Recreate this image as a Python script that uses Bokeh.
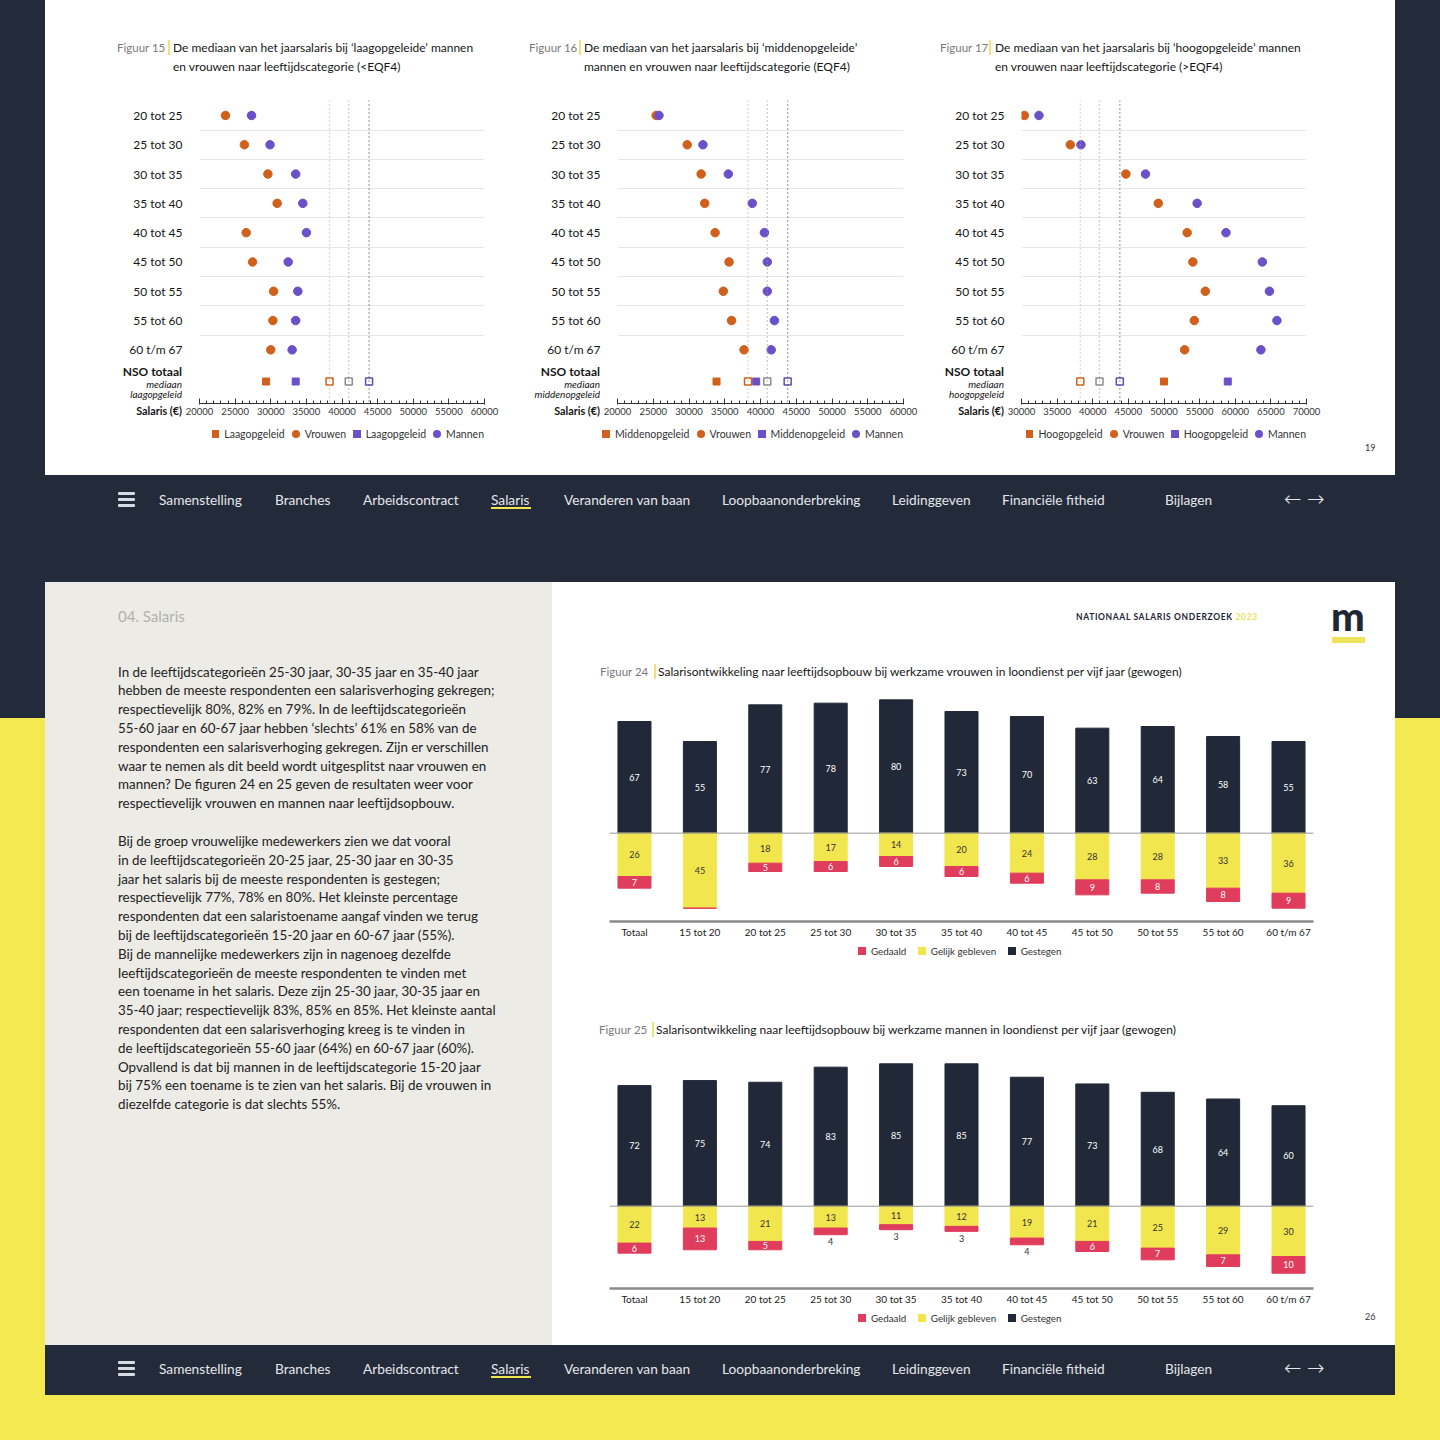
from bokeh.plotting import figure
from bokeh.models import (Range1d, FixedTicker, SingleIntervalTicker, Span, ColumnDataSource,
                          Div, NumeralTickFormatter)
from bokeh.layouts import row, column
from bokeh.embed import file_html
from bokeh.resources import INLINE
from bokeh.core.properties import value

# ---------------- data ----------------
age_groups = ["20 tot 25", "25 tot 30", "30 tot 35", "35 tot 40", "40 tot 45",
              "45 tot 50", "50 tot 55", "55 tot 60", "60 t/m 67"]

laag_vrouwen = [23650, 26300, 29600, 30900, 26550, 27450, 30400, 30300, 30000]
laag_mannen = [27300, 29900, 33500, 34500, 35000, 32450, 33800, 33500, 33000]
laag_nso_vrouwen = 29350
laag_nso_mannen = 33500

midden_vrouwen = [25400, 29750, 31700, 32200, 33650, 35600, 34800, 35950, 37700]
midden_mannen = [25800, 31950, 35500, 38850, 40550, 40950, 40950, 41950, 41500]
midden_nso_vrouwen = 33850
midden_nso_mannen = 39400

hoog_vrouwen = [30400, 36850, 44650, 49200, 53250, 54050, 55800, 54250, 52900]
hoog_mannen = [32450, 38350, 47400, 54650, 58700, 63800, 64800, 65850, 63600]
hoog_nso_vrouwen = 50000
hoog_nso_mannen = 58950

nso_totaal_vrouwen = 38250
nso_totaal = 40950
nso_totaal_mannen = 43800

bar_categories = ["Totaal", "15 tot 20", "20 tot 25", "25 tot 30", "30 tot 35", "35 tot 40",
                  "40 tot 45", "45 tot 50", "50 tot 55", "55 tot 60", "60 t/m 67"]
vrouwen_gestegen = [67, 55, 77, 78, 80, 73, 70, 63, 64, 58, 55]
vrouwen_gelijk = [26, 45, 18, 17, 14, 20, 24, 28, 28, 33, 36]
vrouwen_gedaald = [7, 0, 5, 6, 6, 6, 6, 9, 8, 8, 9]

mannen_gestegen = [72, 75, 74, 83, 85, 85, 77, 73, 68, 64, 60]
mannen_gelijk = [22, 13, 21, 13, 11, 12, 19, 21, 25, 29, 30]
mannen_gedaald = [6, 13, 5, 4, 3, 3, 4, 6, 7, 7, 10]

nav_items = ["Samenstelling", "Branches", "Arbeidscontract", "Salaris", "Veranderen van baan",
             "Loopbaanonderbreking", "Leidinggeven", "Financiële fitheid", "Bijlagen"]
nav_x = [159, 275, 363, 491, 564, 722, 892, 1002, 1165]

paragraph_lines = [
    "In de leeftijdscategorieën 25-30 jaar, 30-35 jaar en 35-40 jaar",
    "hebben de meeste respondenten een salarisverhoging gekregen;",
    "respectievelijk 80%, 82% en 79%. In de leeftijdscategorieën",
    "55-60 jaar en 60-67 jaar hebben ‘slechts’ 61% en 58% van de",
    "respondenten een salarisverhoging gekregen. Zijn er verschillen",
    "waar te nemen als dit beeld wordt uitgesplitst naar vrouwen en",
    "mannen? De figuren 24 en 25 geven de resultaten weer voor",
    "respectievelijk vrouwen en mannen naar leeftijdsopbouw.",
    "",
    "Bij de groep vrouwelijke medewerkers zien we dat vooral",
    "in de leeftijdscategorieën 20-25 jaar, 25-30 jaar en 30-35",
    "jaar het salaris bij de meeste respondenten is gestegen;",
    "respectievelijk 77%, 78% en 80%. Het kleinste percentage",
    "respondenten dat een salaristoename aangaf vinden we terug",
    "bij de leeftijdscategorieën 15-20 jaar en 60-67 jaar (55%).",
    "Bij de mannelijke medewerkers zijn in nagenoeg dezelfde",
    "leeftijdscategorieën de meeste respondenten te vinden met",
    "een toename in het salaris. Deze zijn 25-30 jaar, 30-35 jaar en",
    "35-40 jaar; respectievelijk 83%, 85% en 85%. Het kleinste aantal",
    "respondenten dat een salarisverhoging kreeg is te vinden in",
    "de leeftijdscategorieën 55-60 jaar (64%) en 60-67 jaar (60%).",
    "Opvallend is dat bij mannen in de leeftijdscategorie 15-20 jaar",
    "bij 75% een toename is te zien van het salaris. Bij de vrouwen in",
    "diezelfde categorie is dat slechts 55%.",
]

# ---------------- styles ----------------
FONT = "Lato"
NAVY = "#232b3a"
YELLOW_BG = "#f4e950"
GRAY_BG = "#ecebe6"
BAR_DARK = "#212938"
BAR_YELLOW = "#f2e64f"
BAR_RED = "#e03c5c"
ORANGE = "#d0601b"
PURPLE = "#6a50c9"
TEXT = "#161616"


def block(w, h, color, inner=""):
    html = (f'<div style="position:relative;width:{w}px;height:{h}px;background:{color};'
            f'overflow:hidden;font-family:{FONT};">{inner}</div>')
    return Div(text=html, width=w, height=h, margin=0, styles={"background-color": color})


def title_html(fig_label, lines, fx, bx, tx, y0, dy=19):
    parts = [f'<div style="position:absolute;left:{fx}px;top:{y0 - 8}px;line-height:16px;'
             f'font-size:11.5px;color:#7a7a7a;white-space:nowrap">{fig_label}</div>',
             f'<div style="position:absolute;left:{bx}px;top:{y0 - 8}px;width:1.5px;height:15px;'
             f'background:#efe27a"></div>']
    for i, ln in enumerate(lines):
        parts.append(f'<div style="position:absolute;left:{tx}px;top:{y0 - 8 + i * dy}px;'
                     f'line-height:16px;font-size:12px;color:{TEXT};white-space:nowrap">{ln}</div>')
    return "".join(parts)


def legend_html(items, pos_css, font_size, gap):
    spans = []
    for shape, col, lab in items:
        radius = "50%" if shape == "circle" else "0"
        sz = 8 if shape == "circle" else 7.5
        spans.append(f'<span style="display:flex;align-items:center;margin:0 {gap}px 0 0">'
                     f'<span style="display:inline-block;width:{sz}px;height:{sz}px;background:{col};'
                     f'border-radius:{radius};margin-right:5px"></span>{lab}</span>')
    return (f'<div style="position:absolute;{pos_css};display:flex;align-items:center;'
            f'font-size:{font_size};color:#333;white-space:nowrap;line-height:14px">'
            + "".join(spans) + '</div>')


def add_spans(p):
    for loc, col in [(nso_totaal_vrouwen, "#e6a57a"), (nso_totaal, "#9a9a9a"),
                     (nso_totaal_mannen, "#4b4d96")]:
        p.add_layout(Span(location=loc, dimension="height", line_color=col,
                          line_dash="1 3", line_width=1.3))


def dot_panel(fig_label, title_lines, title_pos, level, level_sub, vrouwen, mannen,
              nso_v, nso_m, x_lo, x_hi, width, bl, br, page=None):
    xr = Range1d(x_lo, x_hi)
    # ---- title
    fx, bx, tx = title_pos
    title = block(width, 92, "white", title_html(fig_label, title_lines, fx, bx, tx, 48))

    # ---- main dot plot (age groups)
    p = figure(width=width, height=272, x_range=xr, y_range=Range1d(8.5, -0.51),
               min_border_left=bl, min_border_right=br, min_border_top=8, min_border_bottom=0,
               x_axis_location=None, output_backend="svg", toolbar_location=None,
               outline_line_color=None, background_fill_color="white", border_fill_color="white")
    ys = list(range(len(age_groups)))
    p.xgrid.visible = False
    p.ygrid.ticker = FixedTicker(ticks=[y + 0.5 for y in ys])
    p.ygrid.grid_line_color = "#e6e6e6"
    yax = p.yaxis[0]
    yax.ticker = FixedTicker(ticks=ys)
    yax.major_label_overrides = {y: g for y, g in zip(ys, age_groups)}
    yax.axis_line_color = None
    yax.major_tick_line_color = None
    yax.minor_tick_line_color = None
    yax.major_tick_out = 0
    yax.major_tick_in = 0
    yax.major_label_standoff = 17
    yax.major_label_text_font = FONT
    yax.major_label_text_font_size = "12px"
    yax.major_label_text_color = TEXT
    add_spans(p)
    p.scatter(x=vrouwen, y=ys, size=8.5, color=ORANGE)
    p.scatter(x=mannen, y=ys, size=8.5, color=PURPLE)

    # ---- NSO totaal row with the salary axis
    left_w = bl - 17
    q = figure(width=width - left_w, height=60, x_range=xr, y_range=Range1d(-1.1, 0.85),
               min_border_left=17, min_border_right=br, min_border_top=0, min_border_bottom=21,
               y_axis_location=None, output_backend="svg", toolbar_location=None,
               outline_line_color=None, background_fill_color="white", border_fill_color="white")
    q.grid.visible = False
    add_spans(q)
    q.scatter(x=[nso_v], y=[0], marker="square", size=7, color=ORANGE)
    q.scatter(x=[nso_m], y=[0], marker="square", size=7, color=PURPLE)
    hollow = ColumnDataSource(dict(x=[nso_totaal_vrouwen, nso_totaal, nso_totaal_mannen],
                                   y=[0, 0, 0], c=[ORANGE, "#8c8c8c", "#5a4fb0"]))
    q.scatter(x="x", y="y", source=hollow, marker="square", size=7, fill_color="white",
              line_color="c", line_width=1.5)
    xax = q.xaxis[0]
    xax.ticker = SingleIntervalTicker(interval=5000, num_minor_ticks=5)
    xax.formatter = NumeralTickFormatter(format="0")
    xax.axis_line_color = "#333"
    xax.major_tick_line_color = "#333"
    xax.minor_tick_line_color = "#333"
    xax.major_tick_in = 5
    xax.major_tick_out = 1
    xax.minor_tick_in = 3
    xax.minor_tick_out = 0
    xax.major_label_standoff = 3
    xax.major_label_text_font = FONT
    xax.major_label_text_font_size = "9.5px"
    xax.major_label_text_color = "#333"

    nso_html = (f'<div style="position:absolute;right:0;top:2px;line-height:12px;font-size:12px;'
                f'font-weight:700;color:{TEXT}">NSO totaal</div>'
                f'<div style="position:absolute;right:0;top:15px;line-height:10px;font-size:10px;'
                f'font-style:italic;color:{TEXT}">mediaan</div>'
                f'<div style="position:absolute;right:0;top:25px;line-height:10px;font-size:10px;'
                f'font-style:italic;color:{TEXT}">{level_sub}</div>'
                f'<div style="position:absolute;right:0;top:41px;line-height:12px;font-size:10.8px;'
                f'font-weight:700;color:{TEXT}">Salaris (€)</div>')
    left = block(left_w, 111, "white", nso_html)

    leg_items = [("square", ORANGE, level), ("circle", ORANGE, "Vrouwen"),
                 ("square", PURPLE, level), ("circle", PURPLE, "Mannen")]
    leg_inner = legend_html(leg_items, f"right:{br - 7}px;top:3px", "10.5px", 7)
    if page:
        leg_inner += (f'<div style="position:absolute;left:{1365 - (1395 - (width - left_w))}px;'
                      f'top:18px;font-size:9px;line-height:12px;color:#333">{page}</div>')
    legend = block(width - left_w, 51, "white", leg_inner)

    return column(title, p, row(left, column(q, legend, spacing=0), spacing=0), spacing=0)


def bar_chart(gestegen, gelijk, gedaald, height, y_lo, y_hi):
    p = figure(width=843, height=height, x_range=Range1d(-0.382, 10.382), y_range=Range1d(y_lo, y_hi),
               min_border_left=57, min_border_right=82, min_border_top=0, min_border_bottom=22,
               y_axis_location=None, output_backend="svg", toolbar_location=None,
               outline_line_color=None, background_fill_color="white", border_fill_color="white")
    p.grid.visible = False
    xs = list(range(len(bar_categories)))
    low = [-g for g in gelijk]
    bottom_red = [-(g + d) for g, d in zip(gelijk, gedaald)]

    p.vbar(x=xs, width=0.505, bottom=0, top=gestegen, color=BAR_DARK)
    p.vbar(x=xs, width=0.505, top=0, bottom=low, color=BAR_YELLOW)
    p.vbar(x=xs, width=0.505, top=low, bottom=bottom_red, color=BAR_RED)
    p.add_layout(Span(location=0, dimension="width", line_color="#9a9a9a", line_width=1))

    txt = dict(text_font=value(FONT), text_font_size="9px", text_align="center",
               text_baseline="middle")
    p.text(x=xs, y=[v / 2 for v in gestegen], text=[str(v) for v in gestegen],
           text_color="white", **txt)
    p.text(x=xs, y=[-g / 2 for g in gelijk], text=[str(g) for g in gelijk],
           text_color="#333", **txt)
    in_x = [x for x, d in zip(xs, gedaald) if d >= 5]
    in_y = [-(g + d / 2) for g, d in zip(gelijk, gedaald) if d >= 5]
    in_t = [str(d) for d in gedaald if d >= 5]
    p.text(x=in_x, y=in_y, text=in_t, text_color="white", **txt)
    out_x = [x for x, d in zip(xs, gedaald) if 0 < d < 5]
    out_y = [-(g + d) for g, d in zip(gelijk, gedaald) if 0 < d < 5]
    out_t = [str(d) for d in gedaald if 0 < d < 5]
    p.text(x=out_x, y=out_y, text=out_t, text_color="#333", y_offset=7, **txt)

    xax = p.xaxis[0]
    xax.ticker = FixedTicker(ticks=xs)
    xax.major_label_overrides = {x: c for x, c in zip(xs, bar_categories)}
    xax.axis_line_color = "#8a8a8a"
    xax.axis_line_width = 2.5
    xax.major_tick_line_color = None
    xax.minor_tick_line_color = None
    xax.major_tick_in = 0
    xax.major_tick_out = 0
    xax.major_label_standoff = 4
    xax.major_label_text_font = FONT
    xax.major_label_text_font_size = "10px"
    xax.major_label_text_color = "#1a1a1a"
    return p


def nav_inner(offset, cy):
    parts = []
    for i in range(3):
        parts.append(f'<div style="position:absolute;left:{118 - offset}px;top:{cy - 8 + i * 6}px;'
                     f'width:17px;height:3px;background:#d8dbe2;border-radius:1px"></div>')
    for name, x in zip(nav_items, nav_x):
        parts.append(f'<div style="position:absolute;left:{x - offset}px;top:{cy - 10}px;'
                     f'line-height:20px;font-size:13.7px;color:#e4e6eb;white-space:nowrap">{name}</div>')
        if name == "Salaris":
            parts.append(f'<div style="position:absolute;left:{x - offset}px;top:{cy + 7}px;'
                         f'width:40px;height:2px;background:#f1e54f"></div>')
    parts.append(f'<div style="position:absolute;left:{1284 - offset}px;top:{cy - 13}px;'
                 f'line-height:24px;font-size:21px;color:#e4e6eb;font-family:DejaVu Sans;'
                 f'font-weight:200">&#8592;</div>')
    parts.append(f'<div style="position:absolute;left:{1307 - offset}px;top:{cy - 13}px;'
                 f'line-height:24px;font-size:21px;color:#e4e6eb;font-family:DejaVu Sans;'
                 f'font-weight:200">&#8594;</div>')
    return "".join(parts)


# ---------------- dot plots ----------------
panel15 = dot_panel("Figuur 15", ["De mediaan van het jaarsalaris bij ‘laagopgeleide’ mannen",
                                  "en vrouwen naar leeftijdscategorie (&lt;EQF4)"], (72, 123, 128),
                    "Laagopgeleid", "laagopgeleid", laag_vrouwen, laag_mannen,
                    laag_nso_vrouwen, laag_nso_mannen, 20000, 60000, 470, 154, 31)
panel16 = dot_panel("Figuur 16", ["De mediaan van het jaarsalaris bij ‘middenopgeleide’",
                                  "mannen en vrouwen naar leeftijdscategorie (EQF4)"], (14, 64, 69),
                    "Middenopgeleid", "middenopgeleid", midden_vrouwen, midden_mannen,
                    midden_nso_vrouwen, midden_nso_mannen, 20000, 60000, 410, 102, 22)
panel17 = dot_panel("Figuur 17", ["De mediaan van het jaarsalaris bij ‘hoogopgeleide’ mannen",
                                  "en vrouwen naar leeftijdscategorie (&gt;EQF4)"], (15, 64, 70),
                    "Hoogopgeleid", "hoogopgeleid", hoog_vrouwen, hoog_mannen,
                    hoog_nso_vrouwen, hoog_nso_mannen, 30000, 70000, 470, 96, 89, page="19")

# ---------------- bar charts ----------------
bar_leg_items = [("square", BAR_RED, "Gedaald"), ("square", BAR_YELLOW, "Gelijk gebleven"),
                 ("square", BAR_DARK, "Gestegen")]
bar_leg_pos = "left:57px;width:714px;justify-content:center;top:1px"

title24 = block(843, 35, "white", title_html(
    "Figuur 24", ["Salarisontwikkeling naar leeftijdsopbouw bij werkzame vrouwen in loondienst "
                  "per vijf jaar (gewogen)"], 48, 102, 106, 17))
fig24 = bar_chart(vrouwen_gestegen, vrouwen_gelijk, vrouwen_gedaald, 253, -53.0, 85.6)
legend24 = block(843, 67, "white", legend_html(bar_leg_items, bar_leg_pos, "9.8px", 12))

title25 = block(843, 40, "white", title_html(
    "Figuur 25", ["Salarisontwikkeling naar leeftijdsopbouw bij werkzame mannen in loondienst "
                  "per vijf jaar (gewogen)"], 47, 100, 104, 20))
fig25 = bar_chart(mannen_gestegen, mannen_gelijk, mannen_gedaald, 260, -49.1, 92.95)
legend25 = block(843, 35, "white", legend_html(bar_leg_items, bar_leg_pos, "9.8px", 12) +
                 '<div style="position:absolute;left:813px;top:1px;font-size:9px;line-height:12px;'
                 'color:#333">26</div>')

# ---------------- page blocks ----------------
top_band = row(block(45, 475, NAVY), panel15, panel16, panel17, block(45, 475, NAVY), spacing=0)
nav1 = block(1440, 107, NAVY, nav_inner(0, 25))

para_html = "<br>".join(paragraph_lines)
gray_inner = (f'<div style="position:absolute;left:73px;top:24px;font-size:15px;line-height:20px;'
              f'color:#b2b1ac">04. Salaris</div>'
              f'<div style="position:absolute;left:73px;top:80.6px;font-size:13.4px;'
              f'line-height:18.82px;color:#222;white-space:nowrap">{para_html}</div>')
gray_panel = block(507, 763, GRAY_BG, gray_inner)

header_inner = ('<div style="position:absolute;left:524px;top:29px;font-size:8.5px;font-weight:700;'
                'letter-spacing:0.65px;color:#1d2433;white-space:nowrap;line-height:12px">'
                'NATIONAAL SALARIS ONDERZOEK <span style="color:#ece15a">2023</span></div>'
                '<div style="position:absolute;left:779px;top:14px;font-size:40px;font-weight:900;'
                'line-height:40px;color:#1f2735;letter-spacing:-1px">m</div>'
                '<div style="position:absolute;left:780px;top:55px;width:33px;height:6px;'
                'background:#efe35a"></div>')
header = block(843, 73, "white", header_inner)
right_col = column(header, title24, fig24, legend24, title25, fig25, legend25, spacing=0)

edge_l = column(block(45, 136, NAVY), block(45, 627, YELLOW_BG), spacing=0)
edge_r = column(block(45, 136, NAVY), block(45, 627, YELLOW_BG), spacing=0)
mid_band = row(edge_l, gray_panel, right_col, edge_r, spacing=0)

nav2 = row(block(45, 50, YELLOW_BG), block(1350, 50, NAVY, nav_inner(45, 24)),
           block(45, 50, YELLOW_BG), spacing=0)
bottom = block(1440, 45, YELLOW_BG)

page = column(top_band, nav1, mid_band, nav2, bottom, spacing=0)

open("out.html", "w").write(file_html(page, INLINE))
